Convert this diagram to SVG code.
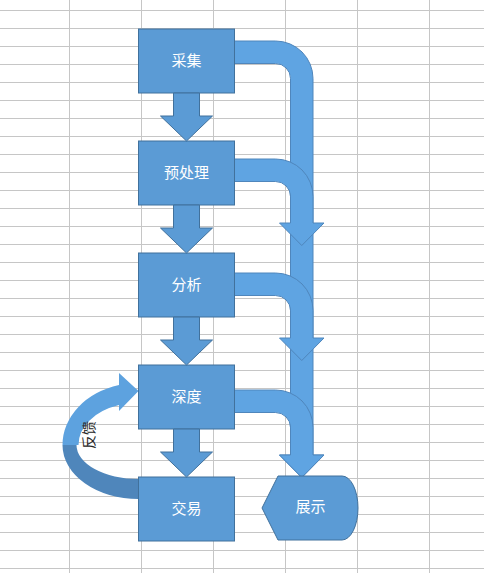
<svg xmlns="http://www.w3.org/2000/svg" width="484" height="573" viewBox="0 0 484 573">
  <style>
    .grid line { stroke: #c6c6c6; stroke-width: 1; }
    .box { fill: #5b9bd5; stroke: #41719c; stroke-width: 1; }
    .down { fill: #5b9bd5; stroke: #41719c; stroke-width: 1; }
    .bent { fill: #5fa4e2; stroke: #4f86bc; stroke-width: 1; }
    .label { font-family: "Noto Sans CJK SC", "Noto Sans", sans-serif; font-size: 15px; fill: #ffffff; text-anchor: middle; }
    .note { font-family: "Noto Sans CJK SC", "Noto Sans", sans-serif; font-size: 14px; fill: #262626; text-anchor: middle; }
  </style>
  <defs>
    <pattern id="cells" x="0" y="0" width="72" height="18" patternUnits="userSpaceOnUse" patternTransform="translate(69.5 10.5)">
      <path d="M0,0 H72 M0,0 V18" fill="none" stroke="#c6c6c6" stroke-width="1"/>
    </pattern>
  </defs>

  <!-- sheet background with cell grid -->
  <rect x="0" y="0" width="484" height="573" fill="#ffffff"/>
  <g class="grid">
    <line x1="0" y1="10.5" x2="484" y2="10.5"/>
    <line x1="0" y1="28.5" x2="484" y2="28.5"/>
    <line x1="0" y1="46.5" x2="484" y2="46.5"/>
    <line x1="0" y1="64.5" x2="484" y2="64.5"/>
    <line x1="0" y1="82.5" x2="484" y2="82.5"/>
    <line x1="0" y1="100.5" x2="484" y2="100.5"/>
    <line x1="0" y1="118.5" x2="484" y2="118.5"/>
    <line x1="0" y1="136.5" x2="484" y2="136.5"/>
    <line x1="0" y1="154.5" x2="484" y2="154.5"/>
    <line x1="0" y1="172.5" x2="484" y2="172.5"/>
    <line x1="0" y1="190.5" x2="484" y2="190.5"/>
    <line x1="0" y1="208.5" x2="484" y2="208.5"/>
    <line x1="0" y1="226.5" x2="484" y2="226.5"/>
    <line x1="0" y1="244.5" x2="484" y2="244.5"/>
    <line x1="0" y1="262.5" x2="484" y2="262.5"/>
    <line x1="0" y1="280.5" x2="484" y2="280.5"/>
    <line x1="0" y1="298.5" x2="484" y2="298.5"/>
    <line x1="0" y1="316.5" x2="484" y2="316.5"/>
    <line x1="0" y1="334.5" x2="484" y2="334.5"/>
    <line x1="0" y1="352.5" x2="484" y2="352.5"/>
    <line x1="0" y1="370.5" x2="484" y2="370.5"/>
    <line x1="0" y1="388.5" x2="484" y2="388.5"/>
    <line x1="0" y1="406.5" x2="484" y2="406.5"/>
    <line x1="0" y1="424.5" x2="484" y2="424.5"/>
    <line x1="0" y1="442.5" x2="484" y2="442.5"/>
    <line x1="0" y1="460.5" x2="484" y2="460.5"/>
    <line x1="0" y1="478.5" x2="484" y2="478.5"/>
    <line x1="0" y1="496.5" x2="484" y2="496.5"/>
    <line x1="0" y1="514.5" x2="484" y2="514.5"/>
    <line x1="0" y1="532.5" x2="484" y2="532.5"/>
    <line x1="0" y1="550.5" x2="484" y2="550.5"/>
    <line x1="0" y1="568.5" x2="484" y2="568.5"/>
    <line x1="69.5" y1="0" x2="69.5" y2="573"/>
    <line x1="141.5" y1="0" x2="141.5" y2="573"/>
    <line x1="213.5" y1="0" x2="213.5" y2="573"/>
    <line x1="285.5" y1="0" x2="285.5" y2="573"/>
    <line x1="357.5" y1="0" x2="357.5" y2="573"/>
    <line x1="429.5" y1="0" x2="429.5" y2="573"/>
  </g>

  <!-- connectors -->
  <g id="connectors">
    <!-- feedback loop: 交易 back to 深度 -->
    <g id="feedback">
      <path d="M62.5,445 A76,54 0 0 0 138.5,499 L138.5,479 A62,34 0 0 1 76.5,445 Z" fill="#4f86bb"/>
      <path d="M62.5,445 A76,62 0 0 1 119,385 L119,373 L138.5,391 L119,411 L119,405 A60,42 0 0 0 78.5,445 Z" fill="#5da2df"/>
      <text class="note" transform="translate(89 435) rotate(-90)" y="5">反馈</text>
    </g>

    <!-- bent arrows feeding 展示 -->
    <path class="bent" d="M234.5,41 H275.5 A37.5,37.5 0 0 1 313,78.5 V455 H324 L301.75,477.5 L279.5,455 H290.5 V78.5 A15,15 0 0 0 275.5,63.5 H234.5 Z"/>
    <path class="bent" d="M234.5,159 H275.5 A37.5,37.5 0 0 1 313,196.5 V223 H324 L301.75,245.5 L279.5,223 H290.5 V196.5 A15,15 0 0 0 275.5,181.5 H234.5 Z"/>
    <path class="bent" d="M234.5,273 H275.5 A37.5,37.5 0 0 1 313,310.5 V338 H324 L301.75,360.5 L279.5,338 H290.5 V310.5 A15,15 0 0 0 275.5,295.5 H234.5 Z"/>
    <path class="bent" d="M234.5,390 H275.5 A37.5,37.5 0 0 1 313,427.5 V455 H324 L301.75,477.5 L279.5,455 H290.5 V427.5 A15,15 0 0 0 275.5,412.5 H234.5 Z"/>
  </g>

  <!-- process nodes -->
  <g id="n-collect">
    <rect class="box" x="138.5" y="29" width="96" height="64"/>
    <text class="label" x="186.5" y="66">采集</text>
  </g>
  <g id="n-preprocess">
    <rect class="box" x="138.5" y="141" width="96" height="64"/>
    <text class="label" x="186.5" y="177.5">预处理</text>
  </g>
  <g id="n-analysis">
    <rect class="box" x="138.5" y="253" width="96" height="64"/>
    <text class="label" x="186.5" y="289.5">分析</text>
  </g>
  <g id="n-depth">
    <rect class="box" x="138.5" y="365" width="96" height="64"/>
    <text class="label" x="186.5" y="401.5">深度</text>
  </g>
  <g id="n-trade">
    <rect class="box" x="138.5" y="477" width="96" height="64"/>
    <text class="label" x="186.5" y="513.5">交易</text>
  </g>
  <g id="n-display">
    <path class="box" d="M262,508 L278,476 H342 A16,32 0 0 1 342,540 H278 Z"/>
    <text class="label" x="310.5" y="512">展示</text>
  </g>

  <!-- block arrows between stacked steps -->
  <g id="down-arrows">
    <path class="down" d="M173.5,93 H199.5 V116 H212.5 L186.5,141 L160.5,116 H173.5 Z"/>
    <path class="down" d="M173.5,205 H199.5 V228 H212.5 L186.5,253 L160.5,228 H173.5 Z"/>
    <path class="down" d="M173.5,317 H199.5 V340 H212.5 L186.5,365 L160.5,340 H173.5 Z"/>
    <path class="down" d="M173.5,429 H199.5 V452 H212.5 L186.5,477 L160.5,452 H173.5 Z"/>
  </g>
</svg>
